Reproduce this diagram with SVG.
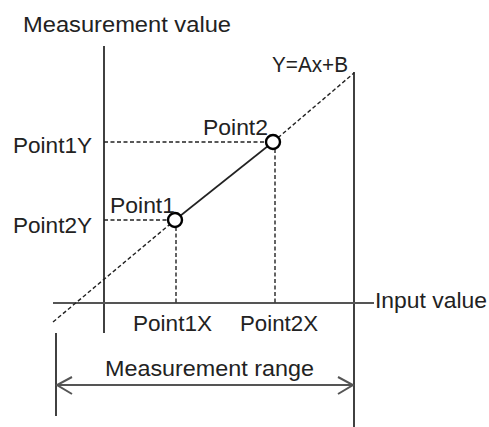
<svg xmlns="http://www.w3.org/2000/svg" width="489" height="427" viewBox="0 0 489 427">
<style>
text{font-family:"Liberation Sans",Arial,sans-serif;font-size:22px;fill:#222}
.ax{stroke:#111;stroke-width:1.6;fill:none}
.hx{stroke:#555;stroke-width:2;fill:none}
.dash{stroke:#222;stroke-width:1.4;stroke-dasharray:4 2.5;fill:none}
.solid{stroke:#222;stroke-width:1.6;fill:none}
.pt{fill:#fff;stroke:#000;stroke-width:2.4}
</style>
<rect width="489" height="427" fill="#fff"/>
<g id="connectors">
<line class="ax" x1="104" y1="46" x2="104" y2="333"/>
<line class="ax" x1="354" y1="72" x2="354" y2="427"/>
<line class="ax" x1="56" y1="333" x2="56" y2="416"/>
<line class="hx" x1="53" y1="303" x2="374" y2="303"/>
<line class="dash" x1="53" y1="322" x2="175" y2="220"/>
<line class="solid" x1="175" y1="220" x2="273" y2="142"/>
<line class="dash" x1="273" y1="142" x2="354" y2="73"/>
<line class="dash" x1="104" y1="142" x2="266" y2="142"/>
<line class="dash" x1="104" y1="220" x2="168" y2="220"/>
<line class="dash" x1="176" y1="227" x2="176" y2="303"/>
<line class="dash" x1="275" y1="149" x2="275" y2="303"/>
<line class="hx" x1="57" y1="385" x2="353" y2="385"/>
<polyline class="hx" points="72,377 57,385 72,394"/>
<polyline class="hx" points="338,377 353,385 338,394"/>
</g>
<g id="point1"><circle class="pt" cx="175" cy="220" r="7"/><text x="110" y="213" textLength="65" lengthAdjust="spacingAndGlyphs">Point1</text></g>
<g id="point2"><circle class="pt" cx="273" cy="142" r="7"/><text x="203" y="135" textLength="65" lengthAdjust="spacingAndGlyphs">Point2</text></g>
<g id="labels">
<text x="23" y="32" textLength="208" lengthAdjust="spacingAndGlyphs">Measurement value</text>
<text x="272" y="72" textLength="76" lengthAdjust="spacingAndGlyphs">Y=Ax+B</text>
<text x="13" y="153" textLength="79" lengthAdjust="spacingAndGlyphs">Point1Y</text>
<text x="13" y="233" textLength="79" lengthAdjust="spacingAndGlyphs">Point2Y</text>
<text x="133" y="331" textLength="79" lengthAdjust="spacingAndGlyphs">Point1X</text>
<text x="240" y="331" textLength="78" lengthAdjust="spacingAndGlyphs">Point2X</text>
<text x="375" y="308" textLength="112" lengthAdjust="spacingAndGlyphs">Input value</text>
<text x="105" y="376" textLength="209" lengthAdjust="spacingAndGlyphs">Measurement range</text>
</g>
</svg>
